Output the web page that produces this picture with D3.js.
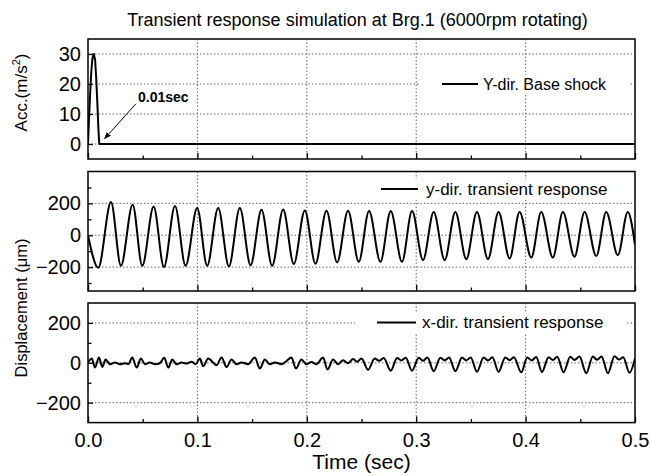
<!DOCTYPE html>
<html><head><meta charset="utf-8">
<script src="https://cdn.jsdelivr.net/npm/d3@7"></script>
<style>
body{margin:0;background:#fff;}
svg text{font-family:"Liberation Sans",Arial,Helvetica,sans-serif;fill:#000;}
</style>
</head><body>
<svg id="chart" width="650" height="476"></svg>
<script>
// ---------- data ----------
const titleText = "Transient response simulation at Brg.1 (6000rpm rotating)";
const timeTicks = [0, 0.1, 0.2, 0.3, 0.4, 0.5];
const timeMinorTicks = [0.05, 0.15, 0.25, 0.35, 0.45];
const accTicks = [0, 10, 20, 30];
const dispTicks = [-200, 0, 200];
const dispMinorTicksY = [-300, -100, 100, 300];
const dispMinorTicksX = [-100, 100];
const accDomain = [-5, 35];
const yDispDomain = [-350, 400];
const xDispDomain = [-300, 300];
const legendLabels = ["Y-dir. Base shock", "y-dir. transient response", "x-dir. transient response"];
const annotation = {label: "0.01sec", textT: 0.0457, textV: 14.1, fromT: 0.0438, fromV: 13.4, toT: 0.0152, toV: 1.8};

// base shock acceleration (m/s^2) : [time, value]
const accPulse = [
  [0, 0], [0.001, 9], [0.002, 17], [0.003, 24], [0.004, 28.5], [0.0053, 30],
  [0.0065, 28], [0.0075, 22], [0.0085, 14], [0.0095, 5], [0.0103, 0], [0.5, 0]
];
// y-direction transient response (um) : [time, value] (extrema)
const yResponse = [
  [0, 0], [0.0094, -204], [0.0210, 208], [0.0301, -192], [0.0408, 192], [0.0496, -192],
  [0.0600, 181], [0.0694, -200], [0.0795, 183], [0.0892, -192], [0.0998, 171], [0.1089, -192],
  [0.1190, 171], [0.1288, -196], [0.1388, 171], [0.1486, -188], [0.1586, 160], [0.1683, -192],
  [0.1784, 162], [0.1881, -181], [0.1982, 156], [0.2079, -179], [0.2180, 154], [0.2277, -171],
  [0.2377, 154], [0.2475, -167], [0.2569, 152], [0.2673, -167], [0.2767, 152], [0.2870, -167],
  [0.2962, 152], [0.3062, -156], [0.3160, 146], [0.3260, -156], [0.3358, 146], [0.3458, -150],
  [0.3555, 146], [0.3656, -150], [0.3753, 146], [0.3854, -146], [0.3945, 146], [0.4052, -140],
  [0.4143, 146], [0.4249, -140], [0.4341, 146], [0.4447, -135], [0.4539, 146], [0.4646, -131],
  [0.4737, 146], [0.4843, -125], [0.4934, 146], [0.5, -60]
];
// x-direction transient response (um) : [time, value]
const xResponse = [
  [0, 0], [0.0034, 21], [0.0064, -24], [0.0100, 26], [0.0131, -21], [0.0161, 16], [0.0201, -7],
  [0.0247, 2], [0.0292, -7], [0.0338, -2], [0.0368, -7],
  [0.0405, 26], [0.0444, -24], [0.0484, 21], [0.0520, -7], [0.0566, 2], [0.0612, -7], [0.0657, -2],
  [0.0697, 25], [0.0734, -24], [0.0770, 16], [0.0810, -7], [0.0855, 2], [0.0901, -4], [0.0947, 5], [0.0984, -7],
  [0.1023, 21], [0.1053, -17], [0.1099, 21], [0.1175, -12], [0.1221, 26], [0.1266, -21], [0.1312, 16],
  [0.1358, -7], [0.1403, 2], [0.1464, -7],
  [0.1525, 26], [0.1571, -29], [0.1616, 16], [0.1662, -7], [0.1708, 2], [0.1769, -7], [0.1815, 9],
  [0.1860, 26], [0.1900, -29], [0.1951, 16], [0.1997, -7], [0.2042, 4], [0.2088, -7],
  [0.2149, 26], [0.2189, -34], [0.2240, 16], [0.2286, -7], [0.2332, 13], [0.2377, -2], [0.2423, 19],
  [0.2460, 5], [0.2500, 22],
  [0.2560, -35], [0.2621, 22], [0.2661, 10], [0.2703, 24], [0.2767, -40], [0.2825, 24], [0.2865, 12],
  [0.2904, 25], [0.2962, -40], [0.3023, 25], [0.3062, 10], [0.3102, 26], [0.3160, -42], [0.3221, 25],
  [0.3260, 12], [0.3300, 26], [0.3358, -42], [0.3419, 26], [0.3458, 12], [0.3498, 27], [0.3555, -45],
  [0.3616, 26], [0.3656, 12], [0.3696, 28], [0.3753, -45], [0.3814, 27], [0.3854, 13], [0.3893, 28],
  [0.3960, -48], [0.4015, 27], [0.4055, 12], [0.4097, 29], [0.4149, -46], [0.4210, 28], [0.4250, 14],
  [0.4289, 30], [0.4347, -48], [0.4408, 30], [0.4447, 14], [0.4493, 31], [0.4554, -52], [0.4615, 31],
  [0.4654, 15], [0.4694, 32], [0.4752, -52], [0.4813, 33], [0.4852, 16], [0.4892, 28], [0.4950, -50],
  [0.5, 22]
];

// ---------- layout ----------
const svg = d3.select("#chart");
const left = 88, right = 635;
const x = d3.scaleLinear().domain([0, 0.5]).range([left, right]);

const panels = [
  {top: 39, bottom: 159, domain: accDomain, data: accPulse, ticks: accTicks, minor: [], grid: accTicks,
   legend: legendLabels[0], legendY: 84, legendSize: 16, lineX: 442, lineLen: 36, textGap: 5},
  {top: 171.5, bottom: 291, domain: yDispDomain, data: yResponse, ticks: dispTicks, minor: dispMinorTicksY, grid: dispTicks,
   legend: legendLabels[1], legendY: 189, legendSize: 17, lineX: 381, lineLen: 37, textGap: 8},
  {top: 303, bottom: 422.6, domain: xDispDomain, data: xResponse, ticks: dispTicks, minor: dispMinorTicksX, grid: dispTicks,
   legend: legendLabels[2], legendY: 322.5, legendSize: 17, lineX: 377, lineLen: 39, textGap: 6}
];

const defs = svg.append("defs");
defs.append("marker").attr("id", "arrow").attr("viewBox", "0 0 10 10")
  .attr("refX", 9).attr("refY", 5).attr("markerWidth", 7).attr("markerHeight", 7)
  .attr("markerUnits", "userSpaceOnUse").attr("orient", "auto")
  .append("path").attr("d", "M0,1 L10,5 L0,9 z").attr("fill", "#000");

// title
svg.append("text").attr("x", 357.5).attr("y", 26).attr("text-anchor", "middle")
  .attr("font-size", 18).text(titleText);

panels.forEach((p, i) => {
  const y = d3.scaleLinear().domain(p.domain).range([p.bottom, p.top]);
  p.y = y;
  const g = svg.append("g");
  const clipId = "clip" + i;
  defs.append("clipPath").attr("id", clipId).append("rect")
    .attr("x", left).attr("y", p.top).attr("width", right - left).attr("height", p.bottom - p.top);

  // grid
  g.append("g").selectAll("line").data(timeTicks.slice(1, -1)).join("line")
    .attr("x1", d => x(d)).attr("x2", d => x(d)).attr("y1", p.top).attr("y2", p.bottom)
    .attr("stroke", "#666").attr("stroke-width", 1).attr("stroke-dasharray", "1.5,2");
  g.append("g").selectAll("line").data(p.grid).join("line")
    .attr("x1", left).attr("x2", right).attr("y1", d => y(d)).attr("y2", d => y(d))
    .attr("stroke", "#666").attr("stroke-width", 1).attr("stroke-dasharray", "1.5,2");

  // bottom axis (major + minor inward ticks)
  const isLast = i === panels.length - 1;
  const xAxis = d3.axisBottom(x).tickValues(timeTicks).tickSize(-6).tickPadding(10.5)
    .tickFormat(isLast ? d3.format(".1f") : () => "");
  const xa = g.append("g").attr("transform", `translate(0,${p.bottom})`).call(xAxis);
  const xm = g.append("g").attr("transform", `translate(0,${p.bottom})`)
    .call(d3.axisBottom(x).tickValues(timeMinorTicks).tickSize(-3.5).tickFormat(() => ""));
  // left axis
  const ya = g.append("g").attr("transform", `translate(${left},0)`)
    .call(d3.axisLeft(y).tickValues(p.ticks).tickSize(-5).tickPadding(7).tickFormat(d3.format("d")));
  const ym = g.append("g").attr("transform", `translate(${left},0)`)
    .call(d3.axisLeft(y).tickValues(p.minor).tickSize(-3.5).tickFormat(() => ""));
  [xa, xm, ya, ym].forEach(a => {
    a.select(".domain").remove();
    a.selectAll(".tick line").attr("stroke", "#000").attr("stroke-width", 1.3);
    a.selectAll("text").attr("font-size", 20).attr("fill", "#000")
      .style("font-family", '"Liberation Sans",Arial,sans-serif');
  });

  // data line
  const line = d3.line().x(d => x(d[0])).y(d => y(d[1])).curve(i === 0 ? d3.curveLinear : d3.curveMonotoneX);
  g.append("path").datum(p.data).attr("d", line).attr("clip-path", `url(#${clipId})`)
    .attr("fill", "none").attr("stroke", "#000").attr("stroke-width", 2).attr("stroke-linejoin", "round");

  // frame
  g.append("rect").attr("x", left).attr("y", p.top).attr("width", right - left).attr("height", p.bottom - p.top)
    .attr("fill", "none").attr("stroke", "#000").attr("stroke-width", 1.5);

  // legend
  const lg = svg.append("g");
  const bg = lg.append("rect").attr("fill", "#fff");
  lg.append("line").attr("x1", p.lineX).attr("x2", p.lineX + p.lineLen)
    .attr("y1", p.legendY).attr("y2", p.legendY).attr("stroke", "#000").attr("stroke-width", 2);
  const lt = lg.append("text").attr("x", p.lineX + p.lineLen + p.textGap).attr("y", p.legendY)
    .attr("dy", "0.35em").attr("font-size", p.legendSize).text(p.legend);
  const bb = lt.node().getBBox();
  bg.attr("x", p.lineX - 22).attr("y", bb.y - 1).attr("width", bb.x + bb.width - p.lineX + 44)
    .attr("height", bb.height + 2);
});

// annotation in panel 1
const p0 = panels[0];
svg.append("line")
  .attr("x1", x(annotation.fromT)).attr("y1", p0.y(annotation.fromV))
  .attr("x2", x(annotation.toT)).attr("y2", p0.y(annotation.toV))
  .attr("stroke", "#000").attr("stroke-width", 1).attr("marker-end", "url(#arrow)");
svg.append("text").attr("x", x(annotation.textT)).attr("y", p0.y(annotation.textV))
  .attr("font-size", 14).attr("font-weight", "bold").text(annotation.label);

// axis titles
const accLabel = svg.append("text").attr("transform", "translate(27,92.5) rotate(-90)")
  .attr("text-anchor", "middle").attr("font-size", 17);
accLabel.append("tspan").text("Acc.(m/s");
accLabel.append("tspan").attr("font-size", 11).attr("dy", -7).text("2");
accLabel.append("tspan").attr("dy", 7).text(")");

svg.append("text").attr("transform", "translate(27,308) rotate(-90)")
  .attr("text-anchor", "middle").attr("font-size", 16.5).text("Displacement (\u03bcm)");

svg.append("text").attr("x", 361.5).attr("y", 469).attr("text-anchor", "middle")
  .attr("font-size", 21).text("Time (sec)");
</script>
</body></html>
